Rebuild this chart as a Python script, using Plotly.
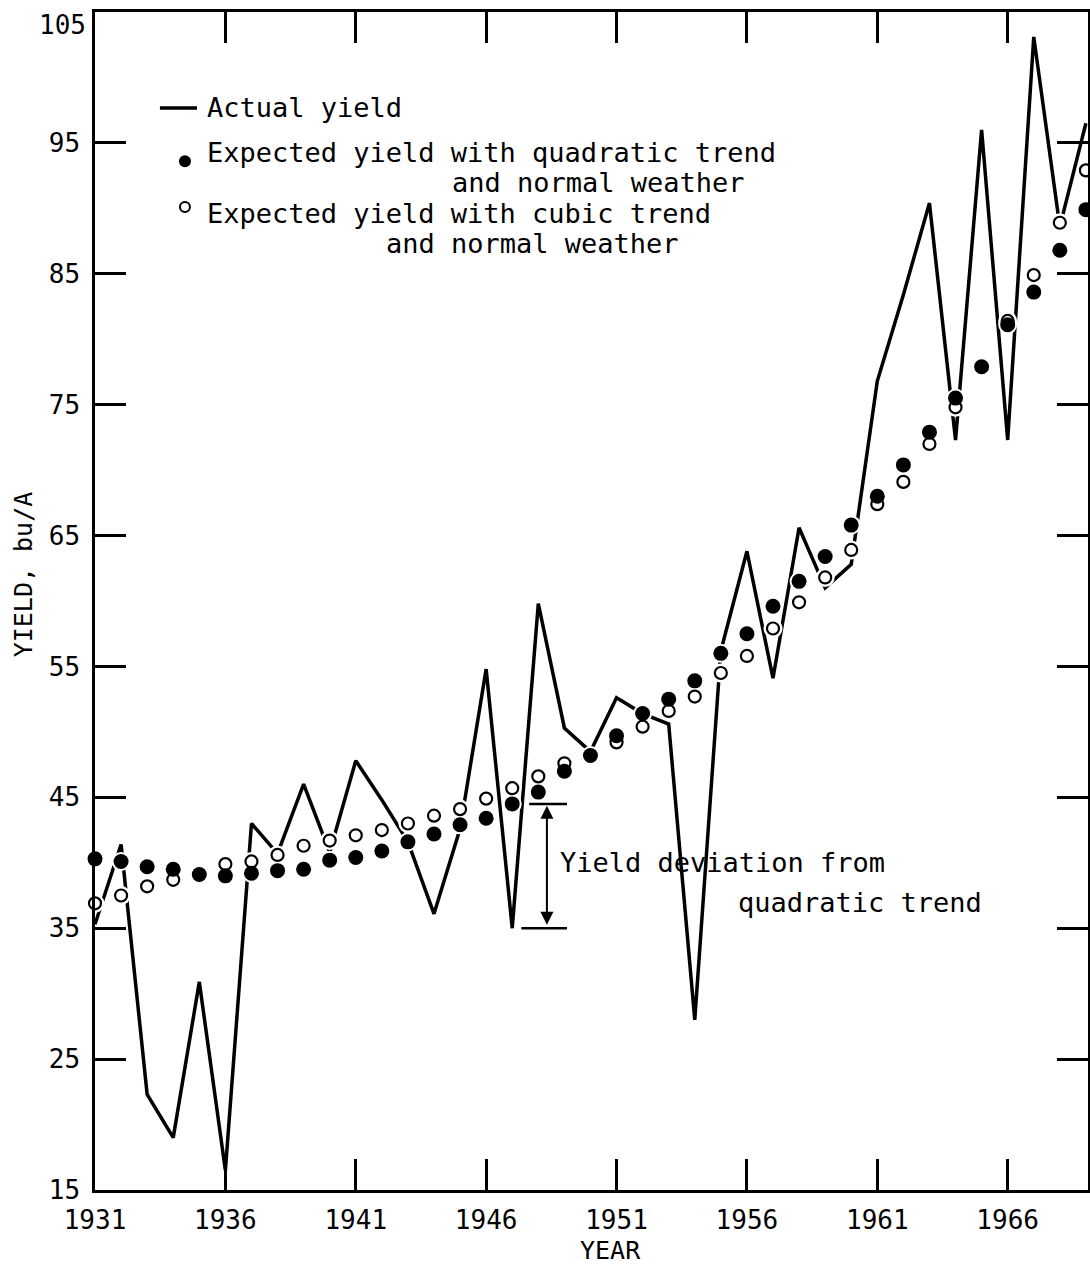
import plotly.graph_objects as go

# Yield series, 1931-1969 (bu/A)
years = list(range(1931, 1970))

actual_yield = [
    35.3, 41.4, 22.3, 19.0, 30.9, 16.5, 43.0, 40.7, 46.0, 40.8,
    47.8, 44.8, 41.6, 36.1, 42.6, 54.8, 35.0, 59.8, 50.3, 48.5,
    52.6, 51.4, 50.6, 28.0, 56.2, 63.8, 54.1, 65.6, 61.0, 62.8,
    76.8, 83.4, 90.4, 72.3, 96.0, 72.3, 103.1, 88.6, 96.5,
]

quadratic_expected = [
    40.3, 40.1, 39.7, 39.5, 39.1, 39.0, 39.2, 39.4, 39.5, 40.2,
    40.4, 40.9, 41.6, 42.2, 42.9, 43.4, 44.5, 45.4, 47.0, 48.2,
    49.7, 51.4, 52.5, 53.9, 56.0, 57.5, 59.6, 61.5, 63.4, 65.8,
    68.0, 70.4, 72.9, 75.5, 77.9, 81.1, 83.6, 86.8, 89.9,
]

cubic_expected = [
    36.9, 37.5, 38.2, 38.7, None, 39.9, 40.1, 40.6, 41.3, 41.7,
    42.1, 42.5, 43.0, 43.6, 44.1, 44.9, 45.7, 46.6, 47.6, None,
    49.2, 50.4, 51.6, 52.7, 54.5, 55.8, 57.9, 59.9, 61.8, 63.9,
    67.4, 69.1, 72.0, 74.8, None, 81.4, 84.9, 88.9, 92.9,
]

x_ticks = [1931, 1936, 1941, 1946, 1951, 1956, 1961, 1966]
y_ticks = [15, 25, 35, 45, 55, 65, 75, 85, 95, 105]

FONT = "DejaVu Sans Mono"
INK = "black"

fig = go.Figure()

# actual yield line
fig.add_trace(go.Scatter(
    x=years, y=actual_yield, mode="lines",
    line=dict(color=INK, width=3.5), showlegend=False,
))

# white halos that break the line around the dots
halo_x = years + years
halo_y = quadratic_expected + cubic_expected
fig.add_trace(go.Scatter(
    x=halo_x, y=halo_y, mode="markers",
    marker=dict(size=19, color="white", line=dict(width=0)),
    cliponaxis=False, showlegend=False, hoverinfo="skip",
))

# cubic trend expectations (open circles)
fig.add_trace(go.Scatter(
    x=years, y=cubic_expected, mode="markers",
    marker=dict(size=12, color="white", line=dict(color=INK, width=2.2)),
    cliponaxis=False, showlegend=False,
))

# quadratic trend expectations (filled dots)
fig.add_trace(go.Scatter(
    x=years, y=quadratic_expected, mode="markers",
    marker=dict(size=15, color=INK, line=dict(width=0)),
    cliponaxis=False, showlegend=False,
))

txt_font = dict(family=FONT, size=27, color=INK)
tick_font = dict(family=FONT, size=26, color=INK)
annotations = []
shapes = []

# key in the upper left
key_x = 1935.22
shapes.append(dict(type="line", xref="x", yref="y", x0=1933.49, x1=1934.91,
                   y0=97.67, y1=97.67, line=dict(color=INK, width=3.5)))
shapes.append(dict(type="circle", xref="x", yref="y", xsizemode="pixel", ysizemode="pixel",
                   xanchor=1934.45, yanchor=93.6, x0=-6, x1=6, y0=-6, y1=6,
                   fillcolor=INK, line=dict(color=INK, width=0)))
shapes.append(dict(type="circle", xref="x", yref="y", xsizemode="pixel", ysizemode="pixel",
                   xanchor=1934.45, yanchor=90.1, x0=-5, x1=5, y0=-5, y1=5,
                   fillcolor="white", line=dict(color=INK, width=2)))

key_rows = [
    ("Actual yield", key_x, 97.67, "left"),
    ("Expected yield with quadratic trend", key_x, 94.23, "left"),
    ("and normal weather", 1956.0, 91.94, "right"),
    ("Expected yield with cubic trend", key_x, 89.64, "left"),
    ("and normal weather", 1953.47, 87.35, "right"),
]
for text, x, y, anchor in key_rows:
    annotations.append(dict(text=text, x=x, y=y, xref="x", yref="y",
                            xanchor=anchor, yanchor="middle", showarrow=False,
                            font=txt_font))

# deviation bracket for 1947
i47 = years.index(1947)
top = quadratic_expected[i47]
bottom = actual_yield[i47]
shapes.append(dict(type="line", xref="x", yref="y", x0=1947.65, x1=1949.1,
                   y0=top, y1=top, line=dict(color=INK, width=2.5)))
shapes.append(dict(type="line", xref="x", yref="y", x0=1947.35, x1=1949.1,
                   y0=bottom, y1=bottom, line=dict(color=INK, width=2.5)))
annotations.append(dict(x=1948.33, y=top - 0.15, ax=1948.33, ay=bottom + 0.15,
                        xref="x", yref="y", axref="x", ayref="y", text="",
                        showarrow=True, arrowside="end+start", arrowhead=2,
                        arrowsize=1.3, arrowwidth=2, arrowcolor=INK))
annotations.append(dict(text="Yield deviation from", x=1948.75, y=40.0,
                        xref="x", yref="y", xanchor="left", yanchor="middle",
                        showarrow=False, font=txt_font))
annotations.append(dict(text="quadratic trend", x=1965.1, y=37.0,
                        xref="x", yref="y", xanchor="right", yanchor="middle",
                        showarrow=False, font=txt_font))

# axis titles
annotations.append(dict(text="YEAR", x=1950.75, y=-0.051, xref="x", yref="paper",
                        xanchor="center", yanchor="middle", showarrow=False,
                        font=dict(family=FONT, size=25, color=INK)))
annotations.append(dict(text="YIELD, bu/A", x=-0.072, y=62.0, xref="paper", yref="y",
                        xanchor="center", yanchor="middle", textangle=-90,
                        showarrow=False, font=dict(family=FONT, size=25, color=INK)))

# the top y label sits just under the frame corner
y_top = y_ticks[-1]
annotations.append(dict(text=str(y_top), x=0, y=y_top, xref="paper", yref="y",
                        xanchor="right", yanchor="top", xshift=-7, yshift=4,
                        showarrow=False, font=tick_font))
y_ticktext = [str(v) for v in y_ticks[:-1]] + [""]

axis_common = dict(
    showline=True, linecolor=INK, linewidth=2.5, mirror="ticks",
    ticks="inside", ticklen=31, tickwidth=2.5, tickcolor=INK,
    showgrid=False, zeroline=False, ticklabeloverflow="allow",
    automargin=False, tickfont=tick_font,
)

fig.update_layout(
    width=1090, height=1268,
    margin=dict(l=95, r=2, t=12, b=78, pad=0, autoexpand=False),
    paper_bgcolor="white", plot_bgcolor="white",
    xaxis=dict(range=[1931, 1969.08], tickvals=x_ticks,
               ticktext=[str(v) for v in x_ticks], ticklabelstandoff=5,
               **axis_common),
    yaxis=dict(range=[15, 105], tickvals=y_ticks, ticktext=y_ticktext,
               ticklabelstandoff=7, ticklabelshift=0, **axis_common),
    shapes=shapes,
    annotations=annotations,
    showlegend=False,
)

fig.write_html("out.html")
